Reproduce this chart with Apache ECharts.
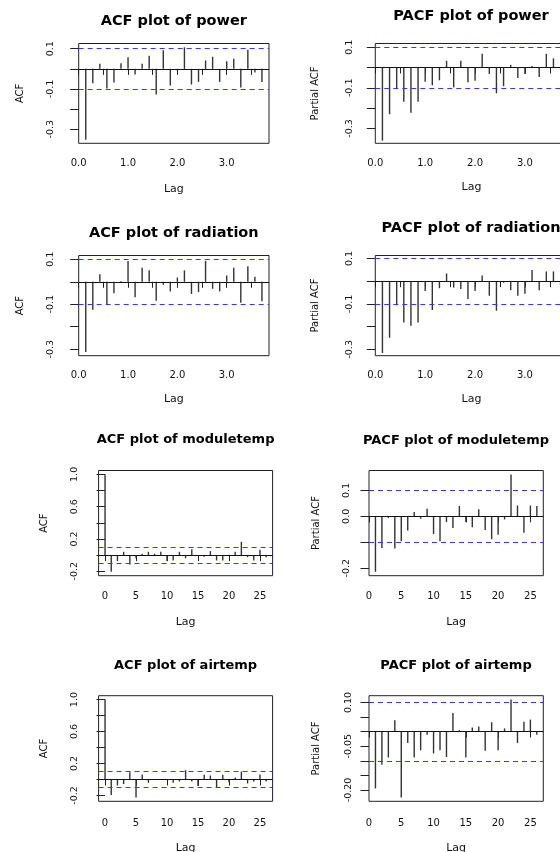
<!DOCTYPE html>
<html>
<head>
<meta charset="utf-8">
<script src="https://cdn.jsdelivr.net/npm/echarts@6/dist/echarts.min.js"></script>
<style>
html, body { margin: 0; padding: 0; background: #fff; }
#chart { width: 560px; height: 852px; }
</style>
</head>
<body>
<div id="chart"></div>
<script>
// first two rows: lags counted in observations, shown in periods of 7
const LAG_FREQ = 7
const seasonalLags = [1, 2, 3, 4, 5, 6, 7, 8, 9, 10, 11, 12, 13, 14, 15, 16, 17, 18, 19, 20, 21, 22, 23, 24, 25, 26]
const lagsFrom0 = [0, 1, 2, 3, 4, 5, 6, 7, 8, 9, 10, 11, 12, 13, 14, 15, 16, 17, 18, 19, 20, 21, 22, 23, 24, 25, 26]
const lagsFrom1 = [1, 2, 3, 4, 5, 6, 7, 8, 9, 10, 11, 12, 13, 14, 15, 16, 17, 18, 19, 20, 21, 22, 23, 24, 25, 26]

const acfPower = [-0.352, -0.072, 0.025, -0.098, -0.068, 0.028, 0.058, -0.028, 0.025, 0.065, -0.128, 0.092, -0.083,
  -0.008, 0.107, -0.078, -0.065, 0.042, 0.06, -0.065, 0.038, 0.05, -0.093, 0.095, -0.018, -0.065]
const pacfPower = [-0.36, -0.23, -0.105, -0.168, -0.223, -0.168, -0.07, -0.088, -0.063, 0.033, -0.098, 0.033, -0.073,
  -0.065, 0.067, -0.032, -0.127, -0.092, 0.013, -0.052, -0.032, 0.007, -0.047, 0.067, 0.045, -0.01]
const acfRadiation = [-0.312, -0.125, 0.034, -0.101, -0.051, 0.004, 0.093, -0.069, 0.063, 0.051, -0.084, -0.013, -0.043,
  0.019, 0.051, -0.054, -0.046, 0.093, -0.031, -0.043, 0.028, 0.063, -0.093, 0.069, 0.022, -0.087]
const pacfRadiation = [-0.316, -0.249, -0.106, -0.182, -0.196, -0.182, -0.043, -0.127, -0.031, 0.034, -0.028, -0.034, -0.079,
  -0.043, 0.025, -0.064, -0.13, -0.007, -0.04, -0.064, -0.055, 0.049, -0.04, 0.043, 0.043, -0.02]
const acfModuletemp = [1.0, -0.207, -0.074, 0.041, -0.116, -0.04, 0.017, 0.041, 0.017, 0.041, -0.074, -0.066, 0.041, -0.04,
  0.074, -0.01, -0.02, 0.05, -0.066, -0.066, 0.005, 0.041, 0.165, -0.025, -0.066, 0.066, -0.025]
const pacfModuletemp = [-0.214, -0.122, -0.006, -0.124, -0.096, -0.055, 0.017, -0.009, 0.029, -0.068, -0.096, -0.022, -0.045,
  0.04, -0.022, -0.042, 0.027, -0.053, -0.088, -0.071, -0.012, 0.162, 0.042, -0.063, 0.042, 0.04]
const acfAirtemp = [1.0, -0.195, -0.075, -0.058, 0.091, -0.224, 0.062, -0.041, 0.005, -0.005, 0.003, -0.041, -0.025, 0.116,
  -0.025, -0.083, 0.058, 0.05, -0.1, 0.058, -0.033, 0.025, 0.1, -0.05, -0.025, 0.062, -0.025]
const pacfAirtemp = [-0.195, -0.114, -0.089, 0.039, -0.226, -0.039, -0.089, -0.064, -0.011, -0.075, -0.064, -0.087, 0.064,
  0.005, -0.089, 0.014, 0.017, -0.066, 0.032, -0.064, 0.011, 0.11, -0.039, 0.034, 0.041, -0.011]

// 95% band drawn as dashed lines
const ciBound = 0.097

// tick marks and labelled ticks
const lagTicksTop = [0, 0.5, 1, 1.5, 2, 2.5, 3, 3.5]
const lagLabelsTop = [0, 1, 2, 3]
const lagTicksBottom = [0, 5, 10, 15, 20, 25]
const acfTicksTop = [-0.3, -0.2, -0.1, 0, 0.1]
const acfLabelsTop = [-0.3, -0.1, 0.1]
const acfTicksBottom = [-0.2, 0, 0.2, 0.4, 0.6, 0.8, 1.0]
const acfLabelsBottom = [-0.2, 0.2, 0.6, 1.0]
const pacfModTicks = [-0.2, -0.1, 0, 0.1]
const pacfModLabels = [-0.2, 0, 0.1]
const pacfAirTicks = [-0.2, -0.15, -0.1, -0.05, 0, 0.05, 0.1]
const pacfAirLabels = [-0.2, -0.05, 0.1]

const FONT = 'DejaVu Sans'
const BAR_COLOR = '#333'
const CI_COLOR = '#3636ff'

// rect: [left, top, width, height]; gaps: [yLabelMargin, yNameGap, xLabelMargin, xNameGap]
const panels = [
  { title: 'ACF plot of power', yName: 'ACF', lags: seasonalLags, freq: LAG_FREQ, values: acfPower,
    rect: [78.7, 43.5, 190.3, 99.8], x: [0, 27 / 7], y: [-0.370, 0.126], titleAt: [173.8, 21.3], titleSize: 14.5,
    xTicks: lagTicksTop, xLabels: lagLabelsTop, xDigits: 1, yTicks: acfTicksTop, yLabels: acfLabelsTop, yDigits: 1,
    gaps: [23.4, 53.7, 15.5, 40.2] },
  { title: 'PACF plot of power', yName: 'Partial ACF', lags: seasonalLags, freq: LAG_FREQ, values: pacfPower,
    rect: [375.3, 43.5, 192.4, 99.8], x: [0, 27 / 7], y: [-0.373, 0.118], titleAt: [471, 15.9], titleSize: 14.5,
    xTicks: lagTicksTop, xLabels: lagLabelsTop, xDigits: 1, yTicks: acfTicksTop, yLabels: acfLabelsTop, yDigits: 1,
    gaps: [20.8, 54.5, 14.7, 37.9] },
  { title: 'ACF plot of radiation', yName: 'ACF', lags: seasonalLags, freq: LAG_FREQ, values: acfRadiation,
    rect: [78.7, 255.5, 190.3, 100.2], x: [0, 27 / 7], y: [-0.329, 0.117], titleAt: [173.8, 232.5], titleSize: 14.5,
    xTicks: lagTicksTop, xLabels: lagLabelsTop, xDigits: 1, yTicks: acfTicksTop, yLabels: acfLabelsTop, yDigits: 1,
    gaps: [23.4, 53.7, 14.5, 37.8] },
  { title: 'PACF plot of radiation', yName: 'Partial ACF', lags: seasonalLags, freq: LAG_FREQ, values: pacfRadiation,
    rect: [375.3, 255.5, 192.4, 100.2], x: [0, 27 / 7], y: [-0.328, 0.113], titleAt: [471, 228], titleSize: 14.5,
    xTicks: lagTicksTop, xLabels: lagLabelsTop, xDigits: 1, yTicks: acfTicksTop, yLabels: acfLabelsTop, yDigits: 1,
    gaps: [20.8, 54.5, 14.5, 37.8] },
  { title: 'ACF plot of moduletemp', yName: 'ACF', lags: lagsFrom0, freq: 1, values: acfModuletemp,
    rect: [98.6, 470.5, 174, 105.2], x: [-1.04, 27.04], y: [-0.255, 1.048], titleAt: [185.6, 440], titleSize: 13,
    xTicks: lagTicksBottom, xLabels: lagTicksBottom, xDigits: 0, yTicks: acfTicksBottom, yLabels: acfLabelsBottom, yDigits: 1,
    gaps: [19.2, 49, 16, 41.3] },
  { title: 'PACF plot of moduletemp', yName: 'Partial ACF', lags: lagsFrom1, freq: 1, values: pacfModuletemp,
    rect: [369, 470.5, 174.3, 105.2], x: [0, 27], y: [-0.229, 0.177], titleAt: [456, 440.3], titleSize: 13,
    xTicks: lagTicksBottom, xLabels: lagTicksBottom, xDigits: 0, yTicks: pacfModTicks, yLabels: pacfModLabels, yDigits: 1,
    gaps: [17, 47.8, 16, 41.3] },
  { title: 'ACF plot of airtemp', yName: 'ACF', lags: lagsFrom0, freq: 1, values: acfAirtemp,
    rect: [98.6, 695.7, 174, 105.6], x: [-1.04, 27.04], y: [-0.273, 1.049], titleAt: [185.6, 665.3], titleSize: 13,
    xTicks: lagTicksBottom, xLabels: lagTicksBottom, xDigits: 0, yTicks: acfTicksBottom, yLabels: acfLabelsBottom, yDigits: 1,
    gaps: [19.2, 48.7, 16.7, 41.2] },
  { title: 'PACF plot of airtemp', yName: 'Partial ACF', lags: lagsFrom1, freq: 1, values: pacfAirtemp,
    rect: [369, 695.7, 174.3, 105.6], x: [0, 27], y: [-0.239, 0.123], titleAt: [456, 665.7], titleSize: 13,
    xTicks: lagTicksBottom, xLabels: lagTicksBottom, xDigits: 0, yTicks: pacfAirTicks, yLabels: pacfAirLabels, yDigits: 2,
    gaps: [15.3, 47.8, 16.7, 41.2] }
]

const refLine = (value, color, type) => ({ yAxis: value, lineStyle: { color: color, type: type, width: 1 } })

const option = {
  animation: false,
  backgroundColor: '#fff',
  title: panels.map(p => ({
    text: p.title,
    left: p.titleAt[0],
    top: p.titleAt[1] - p.titleSize / 2,
    textAlign: 'center',
    padding: 0,
    textStyle: { fontFamily: FONT, fontWeight: 'bold', fontSize: p.titleSize, color: '#000' }
  })),
  grid: panels.map(p => ({
    left: p.rect[0],
    top: p.rect[1],
    width: p.rect[2],
    height: p.rect[3],
    show: true,
    borderColor: '#222',
    borderWidth: 1,
    containLabel: false,
    outerBoundsMode: 'none'
  })),
  xAxis: panels.map((p, i) => ({
    type: 'value',
    gridIndex: i,
    min: p.x[0],
    max: p.x[1],
    position: 'bottom',
    axisLine: { show: false },
    splitLine: { show: false },
    axisTick: { show: true, inside: false, length: 6, customValues: p.xTicks, lineStyle: { color: '#222', width: 1 } },
    axisLabel: {
      customValues: p.xLabels,
      formatter: v => Number(v).toFixed(p.xDigits),
      margin: p.gaps[2],
      fontFamily: FONT,
      fontSize: 10,
      color: '#111'
    },
    name: 'Lag',
    nameLocation: 'middle',
    nameGap: p.gaps[3],
    nameTextStyle: { fontFamily: FONT, fontSize: 11, color: '#111' }
  })),
  yAxis: panels.map((p, i) => ({
    type: 'value',
    gridIndex: i,
    min: p.y[0],
    max: p.y[1],
    position: 'left',
    axisLine: { show: false },
    splitLine: { show: false },
    axisTick: { show: true, inside: false, length: 8.5, customValues: p.yTicks, lineStyle: { color: '#222', width: 1 } },
    axisLabel: {
      customValues: p.yLabels,
      formatter: v => Number(v).toFixed(p.yDigits),
      rotate: 90,
      margin: p.gaps[0],
      fontFamily: FONT,
      fontSize: 9.5,
      color: '#111'
    },
    name: p.yName,
    nameLocation: 'middle',
    nameRotate: 90,
    nameGap: p.gaps[1],
    nameTextStyle: { fontFamily: FONT, fontSize: 10, color: '#111' }
  })),
  series: panels.map((p, i) => ({
    type: 'bar',
    xAxisIndex: i,
    yAxisIndex: i,
    barWidth: 1.4,
    silent: true,
    itemStyle: { color: BAR_COLOR },
    data: p.lags.map((l, k) => [l / p.freq, p.values[k]]),
    markLine: {
      silent: true,
      symbol: 'none',
      label: { show: false },
      data: [
        refLine(0, '#111', 'solid'),
        refLine(ciBound, CI_COLOR, [5, 4]),
        refLine(-ciBound, CI_COLOR, [5, 4])
      ]
    }
  }))
}

const chart = echarts.init(document.getElementById('chart'))
chart.setOption(option)
</script>
</body>
</html>
